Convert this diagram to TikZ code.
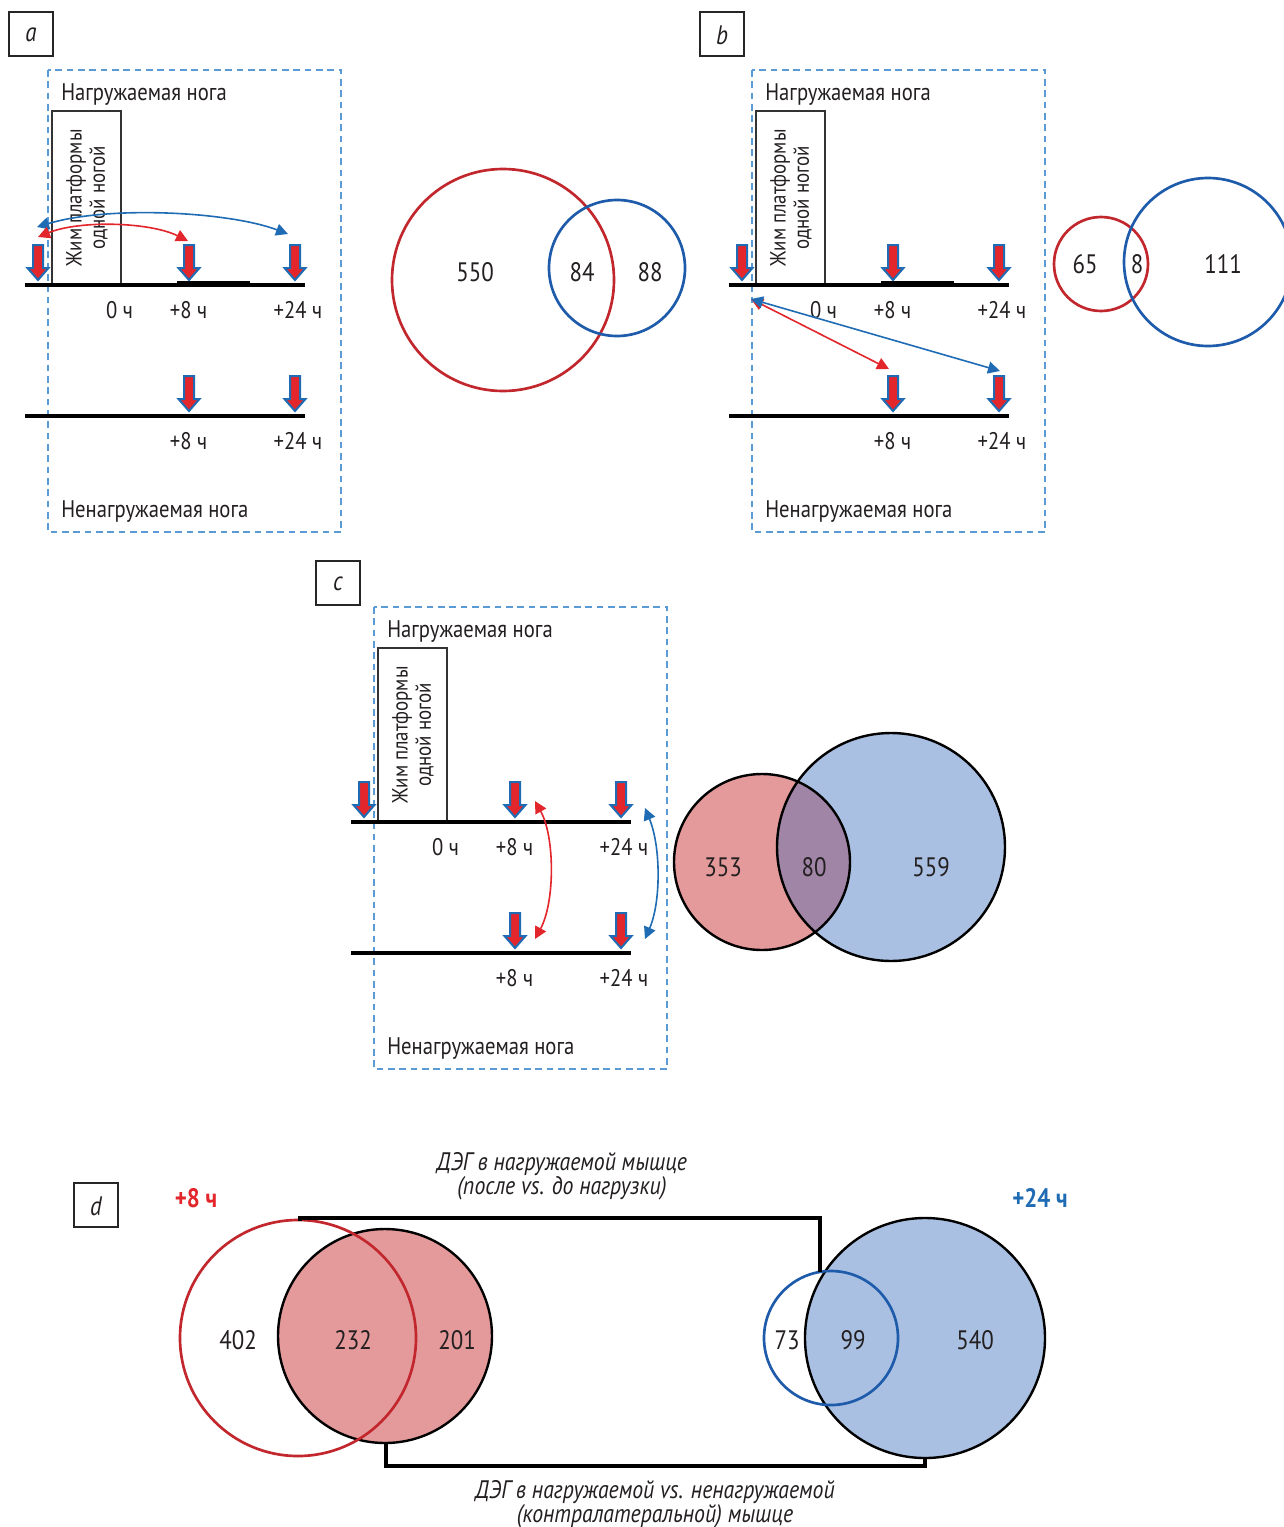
\documentclass[tikz,border=0pt]{standalone}
\usepackage{fontspec}
\setmainfont[FakeStretch=0.86]{PT Sans}
\usetikzlibrary{arrows.meta}
\definecolor{dashblue}{HTML}{5B9BD5}
\definecolor{arrred}{HTML}{E3262B}
\definecolor{arrblue}{HTML}{1F6CB4}
\definecolor{vred}{HTML}{C1272D}
\definecolor{vblue}{HTML}{1E5BAA}
\definecolor{fillred}{HTML}{E49A9B}
\definecolor{fillblue}{HTML}{A9C0E2}
\definecolor{fillmix}{HTML}{A085A6}
\definecolor{txt}{HTML}{231F20}
\tikzset{
  dashbox/.style={draw=dashblue, line width=1.4pt, dash pattern=on 5pt off 3.5pt},
  lbl/.style={text=txt, font=\fontsize{18}{21}\selectfont, inner sep=0pt},
  tick/.style={text=txt, font=\fontsize{18}{21}\selectfont, inner sep=0pt},
  num/.style={text=txt, font=\fontsize{20}{24}\selectfont, inner sep=0pt},
  rottext/.style={text=txt, font=\fontsize{16.5}{17.5}\selectfont, rotate=90, align=center, inner sep=0pt},
  presbox/.style={draw=black!80, line width=1.3pt},
  axisline/.style={draw=black, line width=2.4pt},
  blockarr/.style={fill=arrred, draw=arrblue, line width=1.5pt, line join=miter},
  tipr/.style={draw=arrred, line width=1.2pt, {Triangle[length=9pt,width=9pt]}-{Triangle[length=9pt,width=9pt]}},
  tipb/.style={draw=arrblue, line width=1.2pt, {Triangle[length=9pt,width=9pt]}-{Triangle[length=9pt,width=9pt]}},
  tagbox/.style={draw=black!85, line width=1pt},
  tagtxt/.style={text=txt, font=\itshape\fontsize{20}{22}\selectfont, inner sep=0pt},
  vredline/.style={draw=vred, line width=2pt},
  vblueline/.style={draw=vblue, line width=2pt},
  blkline/.style={draw=black, line width=1.8pt},
  bracket/.style={draw=black, line width=2.4pt},
  ttl/.style={text=txt, font=\itshape\fontsize{19}{17.8}\selectfont, inner sep=0pt},
  hourtag/.style={font=\bfseries\fontsize{20}{22}\selectfont, inner sep=0pt},
}
\newcommand\barw[2]{\draw[blockarr,shift={(#1,#2)}] (-5,-35) -- (5,-35) -- (5,-12) -- (10.5,-12) -- (0,0) -- (-10.5,-12) -- (-5,-12) -- cycle;}
\newcommand\legpanel{%
  \draw[dashbox] (48,70) rectangle (341,532);
  \node[lbl, anchor=west] (load) at (61,95) {Нагружаемая нога};
  \node[lbl, anchor=west] (unload) at (61,512) {Ненагружаемая нога};
  \draw[presbox] (52,111) rectangle (121,285);
  \node[rottext] (press) at (87,198) {Жим платформы\\одной ногой};
  \draw[axisline] (25,285) -- (305,285);
  \draw[axisline] (25,416) -- (305,416);
  \barw{38}{280}\barw{189}{280}\barw{295}{280}
  \barw{189}{411}\barw{295}{411}
  \node[tick] (t0) at (119.5,310) {0 ч};
  \node[tick] (t8) at (188.5,310) {+8 ч};
  \node[tick] (t24) at (298,310) {+24 ч};
  \node[tick] (u8) at (188.5,441) {+8 ч};
  \node[tick] (u24) at (298,441) {+24 ч};
}
\begin{document}
\begin{tikzpicture}[x=0.75pt,y=-0.75pt]
\useasboundingbox (0,0) rectangle (1283,1527);
\fill[white] (0,0) rectangle (1283,1527);

% ---------------- panel a
\draw[tagbox] (9,12) rectangle (53,56);
\node[tagtxt] (taga) at (31,35) {a};
\begin{scope}[name prefix=a-]
  \legpanel
  \draw[line width=4pt] (177,284) -- (250,284);
  \coordinate (b1) at (37,227);
  \coordinate (b2) at (288,234);
  \coordinate (r1) at (38,237);
  \coordinate (r2) at (188,241);
  \draw[tipb] (b1) .. controls (110,205) and (230,212) .. (b2);
  \draw[tipr] (r1) .. controls (80,220) and (150,222) .. (r2);
\end{scope}
\draw[vredline] (503,280) circle (111);
\draw[vblueline] (617,268) circle (68);
\node[num] (a550) at (475,272) {550};
\node[num] (a84) at (582,272) {84};
\node[num] (a88) at (650,272) {88};

% ---------------- panel b
\draw[tagbox] (700,12) rectangle (744,56);
\node[tagtxt] (tagb) at (722,35) {b};
\begin{scope}[shift={(704,0)}, name prefix=b-]
  \legpanel
  \draw[line width=4pt] (177,284) -- (250,284);
  \coordinate (s) at (47,299);
  \coordinate (er) at (185,369);
  \coordinate (eb) at (296,371);
  \draw[tipr] (s) -- (er);
  \draw[tipb] (s) -- (eb);
\end{scope}
\draw[vredline] (1101,264) circle (47);
\draw[vblueline] (1208,262) circle (84);
\node[num] (b65) at (1085,264) {65};
\node[num] (b8) at (1137,264) {8};
\node[num] (b111) at (1223,264) {111};

% ---------------- panel c
\draw[tagbox] (316,561) rectangle (360,605);
\node[tagtxt] (tagc) at (338,584) {c};
\begin{scope}[shift={(326,537)}, name prefix=c-]
  \legpanel
  \coordinate (rt) at (209,264);
  \coordinate (rb) at (209,402);
  \coordinate (bt) at (319,271);
  \coordinate (bb) at (319,402);
  \draw[tipr] (rt) .. controls (229,300) and (229,365) .. (rb);
  \draw[tipb] (bt) .. controls (335,310) and (335,365) .. (bb);
\end{scope}
\fill[fillred] (762,862) circle (88);
\fill[fillblue] (891,847) circle (114);
\begin{scope}
  \clip (762,862) circle (88);
  \fill[fillmix] (891,847) circle (114);
\end{scope}
\draw[blkline] (762,862) circle (88);
\draw[blkline] (891,847) circle (114);
\node[num] (c353) at (723,867) {353};
\node[num] (c80) at (814,867) {80};
\node[num] (c559) at (931,867) {559};

% ---------------- panel d
\draw[tagbox] (74,1183) rectangle (118,1227);
\node[tagtxt] (tagd) at (96,1206) {d};
\node[ttl, align=center] (dtop) at (562,1176) {ДЭГ в нагружаемой мышце\\(после vs. до нагрузки)};
\node[ttl, align=center] (dbot) at (655,1504) {ДЭГ в нагружаемой vs. ненагружаемой\\(контралатеральной) мышце};
\node[hourtag, text=arrred] (d8h) at (196,1198) {+8 ч};
\node[hourtag, text=arrblue] (d24h) at (1040,1198) {+24 ч};

\fill[fillred] (385,1336) circle (107);
\draw[blkline] (385,1336) circle (107);
\draw[vredline] (298,1338) circle (118);
\fill[fillblue] (925,1338) circle (120);
\draw[blkline] (925,1338) circle (120);
\draw[vblueline] (831,1338) circle (67);

\coordinate (dT1) at (300,1221);
\coordinate (dT2) at (820,1272);
\coordinate (dB1) at (386,1443);
\coordinate (dB2) at (925,1458);
\draw[bracket] (dT1) -- ++(0,-3) -| (dT2);
\draw[bracket] (dB1) -- ++(0,23) -| (dB2);

\node[num] (d402) at (238,1340) {402};
\node[num] (d232) at (353,1340) {232};
\node[num] (d201) at (457,1340) {201};
\node[num] (d73) at (787,1340) {73};
\node[num] (d99) at (853,1340) {99};
\node[num] (d540) at (975,1340) {540};
\end{tikzpicture}
\end{document}
